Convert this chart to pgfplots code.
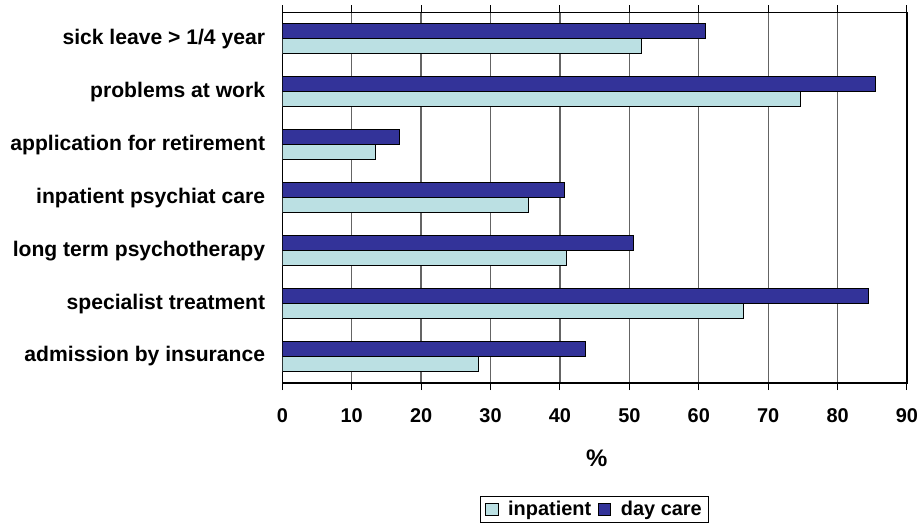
\documentclass[border=0pt]{standalone}
\usepackage{fontspec}
\setmainfont{Liberation Sans}
\usepackage{pgfplots}
\pgfplotsset{compat=1.18}
\definecolor{inpat}{RGB}{187,224,227}
\definecolor{daycare}{RGB}{51,51,153}
\definecolor{gridgray}{RGB}{100,100,100}
\begin{document}
\begin{tikzpicture}
\begin{axis}[
  scale only axis, width=624.7bp, height=370.7bp,
  xmin=0, xmax=90, ymin=-0.5, ymax=6.5,
  xbar, bar width=15bp,
  axis line style={black, line width=1.1bp},
  xtick={0,10,...,90},
  ytick={0,...,6},
  yticklabels={admission by insurance, specialist treatment, long term psychotherapy, inpatient psychiat care, application for retirement, problems at work, sick leave > 1/4 year},
  minor ytick={-0.5,0.5,...,6.5},
  tick align=outside,
  major tick length=7bp, minor tick length=7bp,
  xtick style={black, line width=1bp},
  ytick style={draw=none},
  minor y tick style={black, line width=1bp},
  xmajorgrids, major grid style={gridgray, line width=1.3bp},
  /pgf/number format/assume math mode=true,
  xticklabel style={font=\bfseries\fontsize{20}{24}\selectfont, inner sep=0pt, anchor=north, yshift=-18bp},
  yticklabel style={font=\bfseries\fontsize{21.2}{25}\selectfont, inner sep=0pt, anchor=east, xshift=-10bp},
  xlabel={\%},
  xlabel style={font=\bfseries\fontsize{24}{28}\selectfont, at={(rel axis cs:0.5,0)}, anchor=center, yshift=-75bp, xshift=2bp},
  legend style={at={(rel axis cs:0.5,0)}, anchor=north, yshift=-113bp,
    legend columns=2, draw=black, line width=0.8bp, inner xsep=5bp, inner ysep=3bp,
    font=\bfseries\fontsize{20}{24}\selectfont,
    nodes={inner sep=2bp},
    /tikz/every even column/.append style={column sep=5bp},
    /tikz/every odd column/.append style={column sep=8bp}},
  legend image code/.code={\draw[#1, draw=black, line width=0.7bp] (0bp,-6bp) rectangle (12bp,6bp);},
]
\addplot[fill=inpat, draw=black, line width=0.8bp, bar shift=-7.5bp] coordinates {
  (28.2,0) (66.5,1) (40.9,2) (35.4,3) (13.4,4) (74.6,5) (51.7,6)};
\addlegendentry{inpatient}
\addplot[fill=daycare, draw=black, line width=0.8bp, bar shift=7.5bp] coordinates {
  (43.7,0) (84.4,1) (50.6,2) (40.6,3) (16.8,4) (85.4,5) (61.0,6)};
\addlegendentry{day care}
\end{axis}
\pgfresetboundingbox
\path (current axis.south west) ++(-282.3bp,-142bp) rectangle ++(920bp,525bp);
\end{tikzpicture}
\end{document}
